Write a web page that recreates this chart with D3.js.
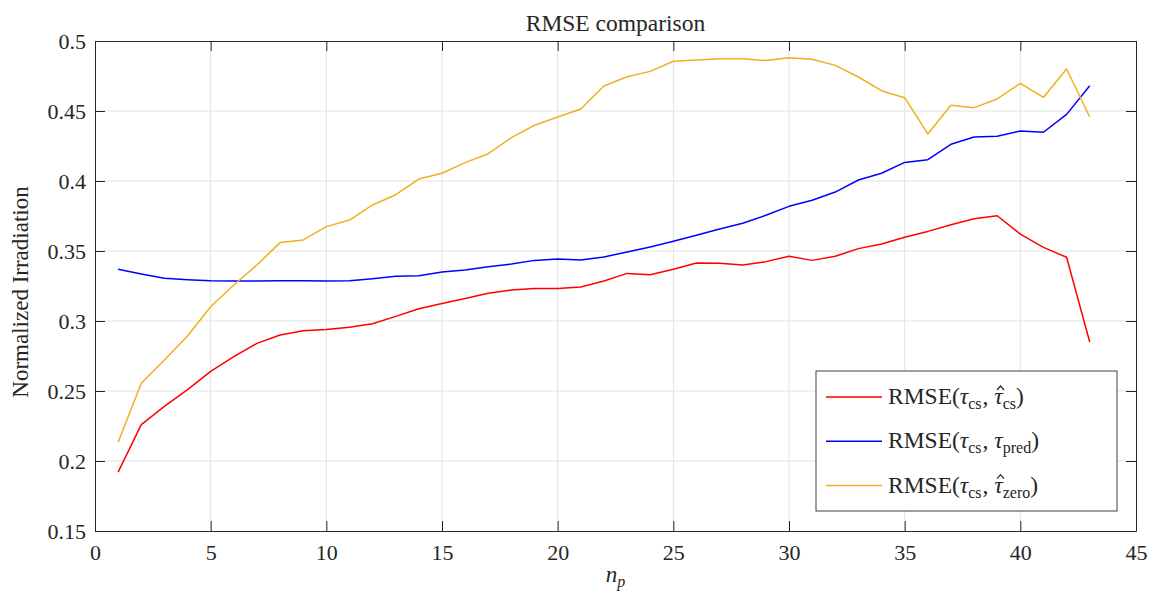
<!DOCTYPE html>
<html><head><meta charset="utf-8">
<script src="https://cdn.jsdelivr.net/npm/d3@7"></script>
<style>
body{margin:0;background:#fff;}
svg text{font-family:"Liberation Serif","DejaVu Serif",serif;fill:#262626;}
</style></head>
<body><svg id="c" width="1155" height="592" font-family="Liberation Serif, serif"></svg>
<script>
const np = d3.range(1, 44);
const rmseCs = [0.192,0.226,0.239,0.251,0.264,0.2745,0.284,0.290,0.293,0.294,0.2955,0.298,0.3033,0.3088,0.3125,0.316,0.3198,0.3221,0.3233,0.3233,0.3243,0.3286,0.3340,0.3331,0.3369,0.3414,0.3412,0.3400,0.3424,0.3462,0.3433,0.3462,0.3517,0.3550,0.3598,0.3640,0.3688,0.3731,0.3752,0.3621,0.3526,0.3455,0.285];
const rmsePred = [0.3369,0.3336,0.3305,0.3295,0.3288,0.3286,0.3286,0.3288,0.3288,0.3286,0.3288,0.3302,0.3319,0.3324,0.3350,0.3365,0.3388,0.3407,0.3433,0.3443,0.3436,0.3457,0.3493,0.3529,0.3570,0.3613,0.3657,0.3698,0.3755,0.3819,0.3862,0.3921,0.4007,0.4055,0.4133,0.4152,0.4262,0.4314,0.4319,0.4357,0.4348,0.4476,0.4681];
const rmseZero = [0.2134,0.2555,0.2721,0.2893,0.3102,0.3257,0.3400,0.3560,0.3579,0.3674,0.3721,0.3829,0.3902,0.4014,0.4055,0.4131,0.4195,0.4310,0.4398,0.4457,0.4514,0.4679,0.4745,0.4783,0.4855,0.4864,0.4874,0.4874,0.4860,0.4881,0.4869,0.4826,0.4743,0.4645,0.4595,0.4336,0.4541,0.4524,0.4586,0.4698,0.4598,0.4800,0.4457];
const xTicks = [0,5,10,15,20,25,30,35,40,45];
const yTicks = [0.15,0.2,0.25,0.3,0.35,0.4,0.45,0.5];
const seriesNames = ["cs","pred","zero"];
const colors = ["#ff0000","#0000ff","#EDB120"];

const svg = d3.select("#c");
const L=95, R=1136, T=41, B=531;
const x = d3.scaleLinear().domain([0,45]).range([L,R]);
const y = d3.scaleLinear().domain([0.15,0.5]).range([B,T]);

// grid
const g = svg.append("g");
g.selectAll(".gx").data(xTicks.slice(1,-1)).enter().append("line")
 .attr("x1",d=>x(d)).attr("x2",d=>x(d)).attr("y1",T).attr("y2",B)
 .attr("stroke","#e3e3e3").attr("stroke-width",1);
g.selectAll(".gy").data(yTicks.slice(1,-1)).enter().append("line")
 .attr("y1",d=>y(d)).attr("y2",d=>y(d)).attr("x1",L).attr("x2",R)
 .attr("stroke","#e3e3e3").attr("stroke-width",1);

// lines
const line = d3.line().x((d,i)=>x(np[i])).y(d=>y(d));
[rmseCs,rmsePred,rmseZero].forEach((s,i)=>{
  svg.append("path").datum(s).attr("d",line).attr("fill","none")
   .attr("stroke",colors[i]).attr("stroke-width",1.5).attr("stroke-linejoin","round");
});

// axes with inward ticks
const FS = 22;
const axB = d3.axisBottom(x).tickValues(xTicks).tickSizeInner(-10).tickSizeOuter(0).tickPadding(13);
const axT = d3.axisTop(x).tickValues(xTicks).tickSizeInner(-10).tickSizeOuter(0).tickFormat("");
const axL = d3.axisLeft(y).tickValues(yTicks).tickSizeInner(-10).tickSizeOuter(0).tickPadding(9).tickFormat(d=>String(+d.toFixed(2)));
const axR = d3.axisRight(y).tickValues(yTicks).tickSizeInner(-10).tickSizeOuter(0).tickFormat("");
[[axB,`translate(0,${B})`],[axT,`translate(0,${T})`],[axL,`translate(${L},0)`],[axR,`translate(${R},0)`]].forEach(([a,t])=>{
  const gg = svg.append("g").attr("transform",t).call(a);
  gg.attr("font-family","Liberation Serif, serif").attr("font-size",FS);
  gg.selectAll("path").attr("stroke","#262626").attr("stroke-width",1);
  gg.selectAll("line").attr("stroke","#262626").attr("stroke-width",1);
  gg.selectAll("text").attr("font-size",FS).attr("fill","#262626");
});

// title & labels
svg.append("text").attr("x",(L+R)/2).attr("y",31).attr("text-anchor","middle").attr("font-size",23.5).text("RMSE comparison");
svg.append("text").attr("transform",`translate(28,292) rotate(-90)`).attr("text-anchor","middle").attr("font-size",23).text("Normalized Irradiation");
const xl = svg.append("text").attr("x",(L+R)/2).attr("y",582).attr("text-anchor","middle").attr("font-size",23);
xl.append("tspan").attr("font-style","italic").text("n");
xl.append("tspan").attr("font-style","italic").attr("font-size",16).attr("dy",5).text("p");

// legend
const lg = svg.append("g");
lg.append("rect").attr("x",816).attr("y",371).attr("width",301).attr("height",140).attr("fill","#fff").attr("stroke","#404040").attr("stroke-width",1);
const hats = [true,false,true];
seriesNames.forEach((n,i)=>{
  const yy = 397 + i*44.3;
  const base = yy + 7;
  lg.append("line").attr("x1",826).attr("x2",882).attr("y1",yy).attr("y2",yy).attr("stroke",colors[i]).attr("stroke-width",1.5);
  const t = lg.append("text").attr("x",888).attr("y",base).attr("font-size",23.5);
  t.append("tspan").text("RMSE(");
  t.append("tspan").attr("font-style","italic").text("\u03C4");
  t.append("tspan").attr("font-size",16).attr("dy",5).text("cs");
  t.append("tspan").attr("dy",-5).attr("dx",1).text(", ");
  t.append("tspan").attr("font-style","italic").text("\u03C4");
  t.append("tspan").attr("font-size",16).attr("dy",5).text(n);
  t.append("tspan").attr("dy",-5).text(")");
  if (hats[i]) {
    const ext = t.node().getExtentOfChar(10);
    const cx = ext.x + ext.width/2 + 2;
    const top = base - 18;
    lg.append("path").attr("d",`M${cx-3.5},${top+4}L${cx},${top}L${cx+3.5},${top+4}`)
      .attr("fill","none").attr("stroke","#262626").attr("stroke-width",1.2);
  }
});
</script></body></html>
